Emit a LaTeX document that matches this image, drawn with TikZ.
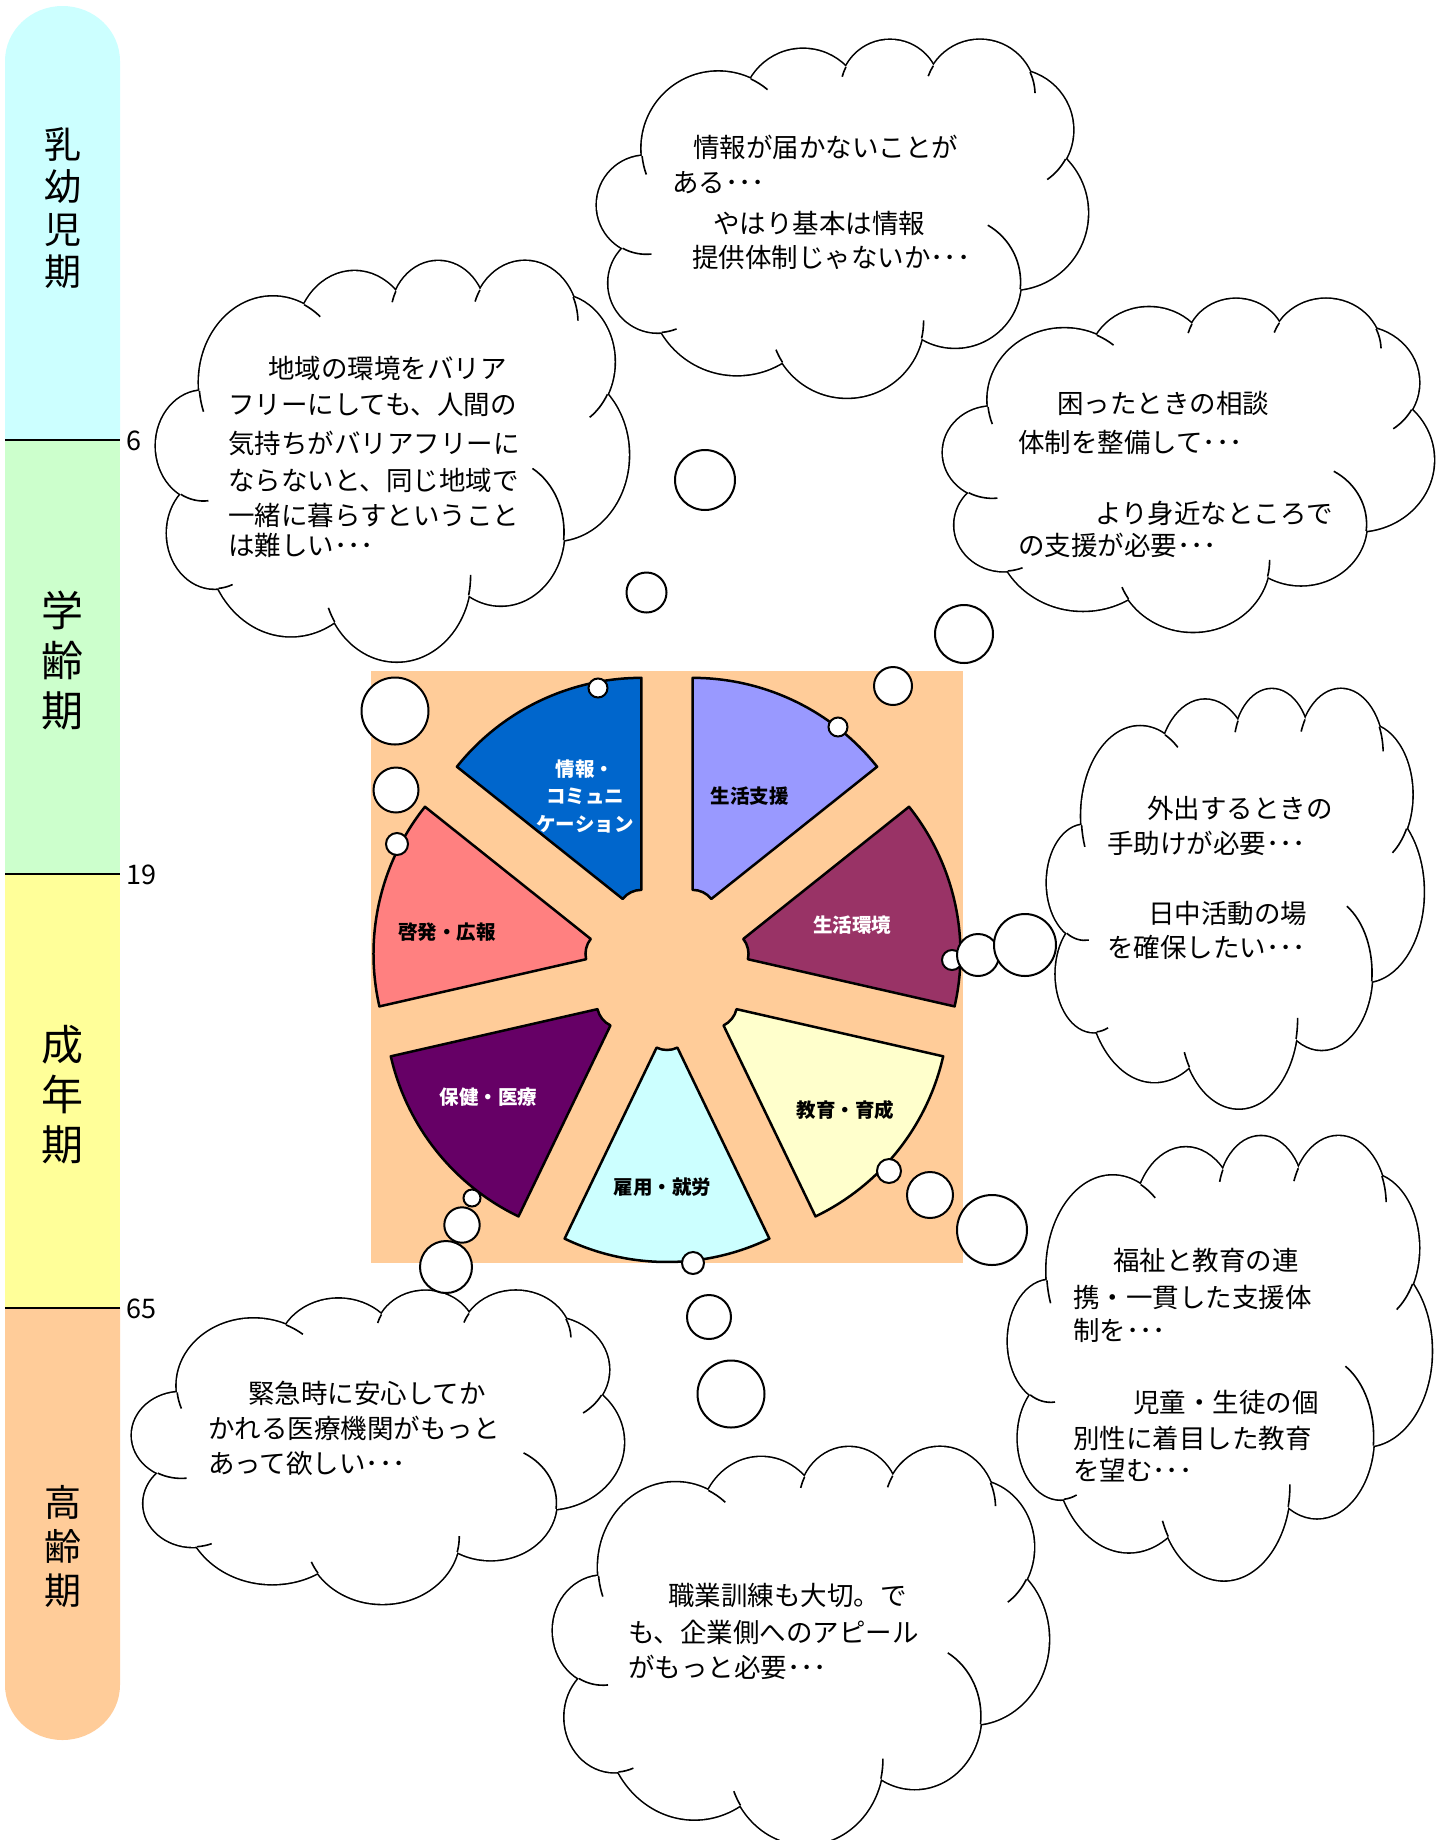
\documentclass[tikz,border=0pt]{standalone}
\usepackage{fontspec}
\newfontfamily\jp{Noto Sans CJK JP}
\usetikzlibrary{calc}
\definecolor{cyanA}{HTML}{CCFFFF}
\definecolor{greenA}{HTML}{CCFFCC}
\definecolor{yellowA}{HTML}{FFFF99}
\definecolor{peach}{HTML}{FFCC99}
\definecolor{secblue}{HTML}{0066CC}
\definecolor{seclav}{HTML}{9999FF}
\definecolor{secmaroon}{HTML}{993366}
\definecolor{secyellow}{HTML}{FFFFCC}
\definecolor{seccyan}{HTML}{CCFFFF}
\definecolor{secpurple}{HTML}{660066}
\definecolor{secsalmon}{HTML}{FF8080}
\tikzset{
  ctext/.style={anchor=west, inner sep=0pt, font=\jp\fontsize{26.5}{30}\selectfont},
  bub/.style={draw=black, fill=white, line width=2pt},
  sect/.style={draw=black, line width=2.5pt, line join=round},
  slab/.style={inner sep=0pt, align=center, font=\jp\bfseries\fontsize{19.5}{27.5}\selectfont},
  barlab/.style={inner sep=0pt, align=center},
  agelab/.style={anchor=west, inner sep=0pt, font=\jp\fontsize{27}{30}\selectfont},
  cloudline/.style={line width=1.6pt},
}
\newcommand\piesector[3]{%
  \pgfmathsetmacro\bis{(#1+#2)/2}%
  \draw[sect, fill=#3] ($(C)+(\bis:59)+(#1:24)$) -- ($(C)+(\bis:59)+(#1:236)$)
     arc[start angle=#1, end angle=#2, radius=236]
     -- ($(C)+(\bis:59)+(#2:24)$)
     arc[start angle=#2, end angle=#1, radius=24] -- cycle;}
\def\lobelist{121.3/109.3/76.6, 206/70.5/60.5, 293/50.5/49.5, 383/56/55.1, 415.5/91/60.5, 414/174/76.8, 358/243/65.6, 250/282/76.6, 140/248.4/87.6, 61/244/49.5, 49.3/166/49.3}
\def\ticklist{121.3/109.3/76.6/174.2/160, 121.3/109.3/76.6/295.1/310, 293/50.5/49.5/207.2/195, 383/56/55.1/212/200, 383/56/55.1/335.4/358, 415.5/91/60.5/28.6/55, 358/243/65.6/6.3/-60, 250/282/76.6/13.1/-0.5, 250/282/76.6/147.3/158, 61/244/49.5/85.6/68, 49.3/166/49.3/118.6/84}
\newcommand\cloudat[4]{%
 \begin{scope}[shift={(#1,-#2)}, xscale=#3/490, yscale=-#4/360]
  \foreach \cx/\cy/\r in \lobelist {\draw[line width=3.2pt] (\cx,\cy) circle (\r);}
  \foreach \cx/\cy/\r in \lobelist {\fill[white] (\cx,\cy) circle (\r);}
  \fill[white] (121.3,109.3) -- (206,70.5) -- (293,50.5) -- (383,56) -- (415.5,91) -- (414,174) -- (358,243) -- (250,282) -- (140,248.4) -- (61,244) -- (49.3,166) -- cycle;
  \foreach \cx/\cy/\r/\a/\b in \ticklist
    {\draw[cloudline] (\cx,\cy) ++(\a:\r) arc[start angle=\a, end angle=\b, radius=\r];}
 \end{scope}}
\begin{document}
\begin{tikzpicture}[x=1pt,y=1pt]
\useasboundingbox (0,0) rectangle (1442,-1840);
\fill[white] (0,0) rectangle (1442,-1840);
% ---------- age bar ----------
\fill[cyanA] (5,-440) -- (5,-61) arc[start angle=180, end angle=0, x radius=57.5, y radius=55] -- (120,-440) -- cycle;
\fill[greenA] (5,-440) rectangle (120,-874);
\fill[yellowA] (5,-874) rectangle (120,-1308);
\fill[peach] (5,-1308) -- (5,-1685) arc[start angle=180, end angle=360, x radius=57.5, y radius=55] -- (120,-1308) -- cycle;
\draw[line width=1.5pt] (5,-440) -- (120,-440);
\draw[line width=1.5pt] (5,-874) -- (120,-874);
\draw[line width=1.5pt] (5,-1308) -- (120,-1308);
\node[barlab, font=\jp\fontsize{37}{42.6}\selectfont] (infant) at (62.5,-208) {乳\\幼\\児\\期};
\node[barlab, font=\jp\fontsize{42}{50}\selectfont] (school) at (62.5,-661) {学\\齢\\期};
\node[barlab, font=\jp\fontsize{42}{50}\selectfont] (adult) at (62.5,-1095) {成\\年\\期};
\node[barlab, font=\jp\fontsize{37}{44}\selectfont] (elder) at (62.5,-1546) {高\\齢\\期};
\node[agelab] (age6) at (126,-441) {6};
\node[agelab] (age19) at (126,-875) {19};
\node[agelab] (age65) at (126,-1309) {65};
% ---------- pie ----------
\coordinate (C) at (667,-967);
\fill[peach] (371,-671) rectangle (963,-1263);
\piesector{90}{141.43}{secblue}
\piesector{141.43}{192.86}{secsalmon}
\piesector{192.86}{244.29}{secpurple}
\piesector{244.29}{295.71}{seccyan}
\piesector{295.71}{347.14}{secyellow}
\piesector{347.14}{398.57}{secmaroon}
\piesector{38.57}{90}{seclav}
\node[slab, text=white] (s1) at (585,-796) {情報・\\コミュニ\\ケーション};
\node[slab] (s2) at (749.5,-796) {生活支援};
\node[slab, text=white] (s3) at (852,-925) {生活環境};
\node[slab] (s4) at (845.6,-1110) {教育・育成};
\node[slab] (s5) at (662.5,-1187) {雇用・就労};
\node[slab, text=white] (s6) at (488.5,-1097) {保健・医療};
\node[slab] (s7) at (447,-932) {啓発・広報};
% ---------- clouds ----------
\cloudat{597}{39}{490}{360}
\cloudat{156}{260}{472}{403}
\cloudat{943}{298}{490}{335}
\cloudat{1047}{688}{376}{422}
\cloudat{1008}{1135}{423}{447}
\cloudat{132}{1290}{491}{315}
\cloudat{553}{1446}{495}{400}
% cloud A
\node[ctext] (a1) at (693,-147) {情報が届かないことが};
\node[ctext] (a2) at (672,-183) {ある･･･};
\node[ctext] (a3) at (713,-223) {やはり基本は情報};
\node[ctext] (a4) at (692,-257) {提供体制じゃないか･･･};
% cloud B
\node[ctext] (b1) at (268,-368) {地域の環境をバリア};
\node[ctext] (b2) at (228,-405) {フリーにしても、人間の};
\node[ctext] (b3) at (228,-443) {気持ちがバリアフリーに};
\node[ctext] (b4) at (228,-480) {ならないと、同じ地域で};
\node[ctext] (b5) at (228,-515) {一緒に暮らすということ};
\node[ctext] (b6) at (228,-545) {は難しい･･･};
% cloud C
\node[ctext] (c1) at (1057,-403) {困ったときの相談};
\node[ctext] (c2) at (1018,-442) {体制を整備して･･･};
\node[ctext] (c3) at (1095,-513) {より身近なところで};
\node[ctext] (c4) at (1018,-545) {の支援が必要･･･};
% cloud D
\node[ctext] (d1) at (1147,-808) {外出するときの};
\node[ctext] (d2) at (1107,-843) {手助けが必要･･･};
\node[ctext] (d3) at (1148,-913) {日中活動の場};
\node[ctext] (d4) at (1107,-947) {を確保したい･･･};
% cloud E
\node[ctext] (e1) at (1113,-1260) {福祉と教育の連};
\node[ctext] (e2) at (1073,-1297) {携・一貫した支援体};
\node[ctext] (e3) at (1073,-1330) {制を･･･};
\node[ctext] (e4) at (1133,-1402) {児童・生徒の個};
\node[ctext] (e5) at (1073,-1438) {別性に着目した教育};
\node[ctext] (e6) at (1073,-1470) {を望む･･･};
% cloud F
\node[ctext] (f1) at (248,-1393) {緊急時に安心してか};
\node[ctext] (f2) at (208,-1428) {かれる医療機関がもっと};
\node[ctext] (f3) at (208,-1463) {あって欲しい･･･};
% cloud G
\node[ctext] (g1) at (668,-1595) {職業訓練も大切。で};
\node[ctext] (g2) at (628,-1632) {も、企業側へのアピール};
\node[ctext] (g3) at (628,-1667) {がもっと必要･･･};
% ---------- bubbles ----------
\draw[bub] (397,-844) circle (11);
\draw[bub] (396,-790) circle (22.5);
\draw[bub] (395,-711) circle (33.5);
\draw[bub] (598,-688) circle (9.5);
\draw[bub] (646.5,-592.5) circle (20);
\draw[bub] (705,-480) circle (30);
\draw[bub] (838,-727) circle (9.5);
\draw[bub] (893,-686) circle (19);
\draw[bub] (964,-634) circle (29);
\draw[bub] (952,-960) circle (10);
\draw[bub] (978,-955) circle (21);
\draw[bub] (1025,-945) circle (31);
\draw[bub] (889,-1171) circle (12);
\draw[bub] (930,-1195) circle (23);
\draw[bub] (992,-1230) circle (35);
\draw[bub] (693,-1263) circle (11);
\draw[bub] (709,-1317) circle (22);
\draw[bub] (731,-1394) circle (33.5);
\draw[bub] (472,-1198) circle (8.5);
\draw[bub] (462,-1225) circle (17.7);
\draw[bub] (446,-1267) circle (26);
\end{tikzpicture}
\end{document}
